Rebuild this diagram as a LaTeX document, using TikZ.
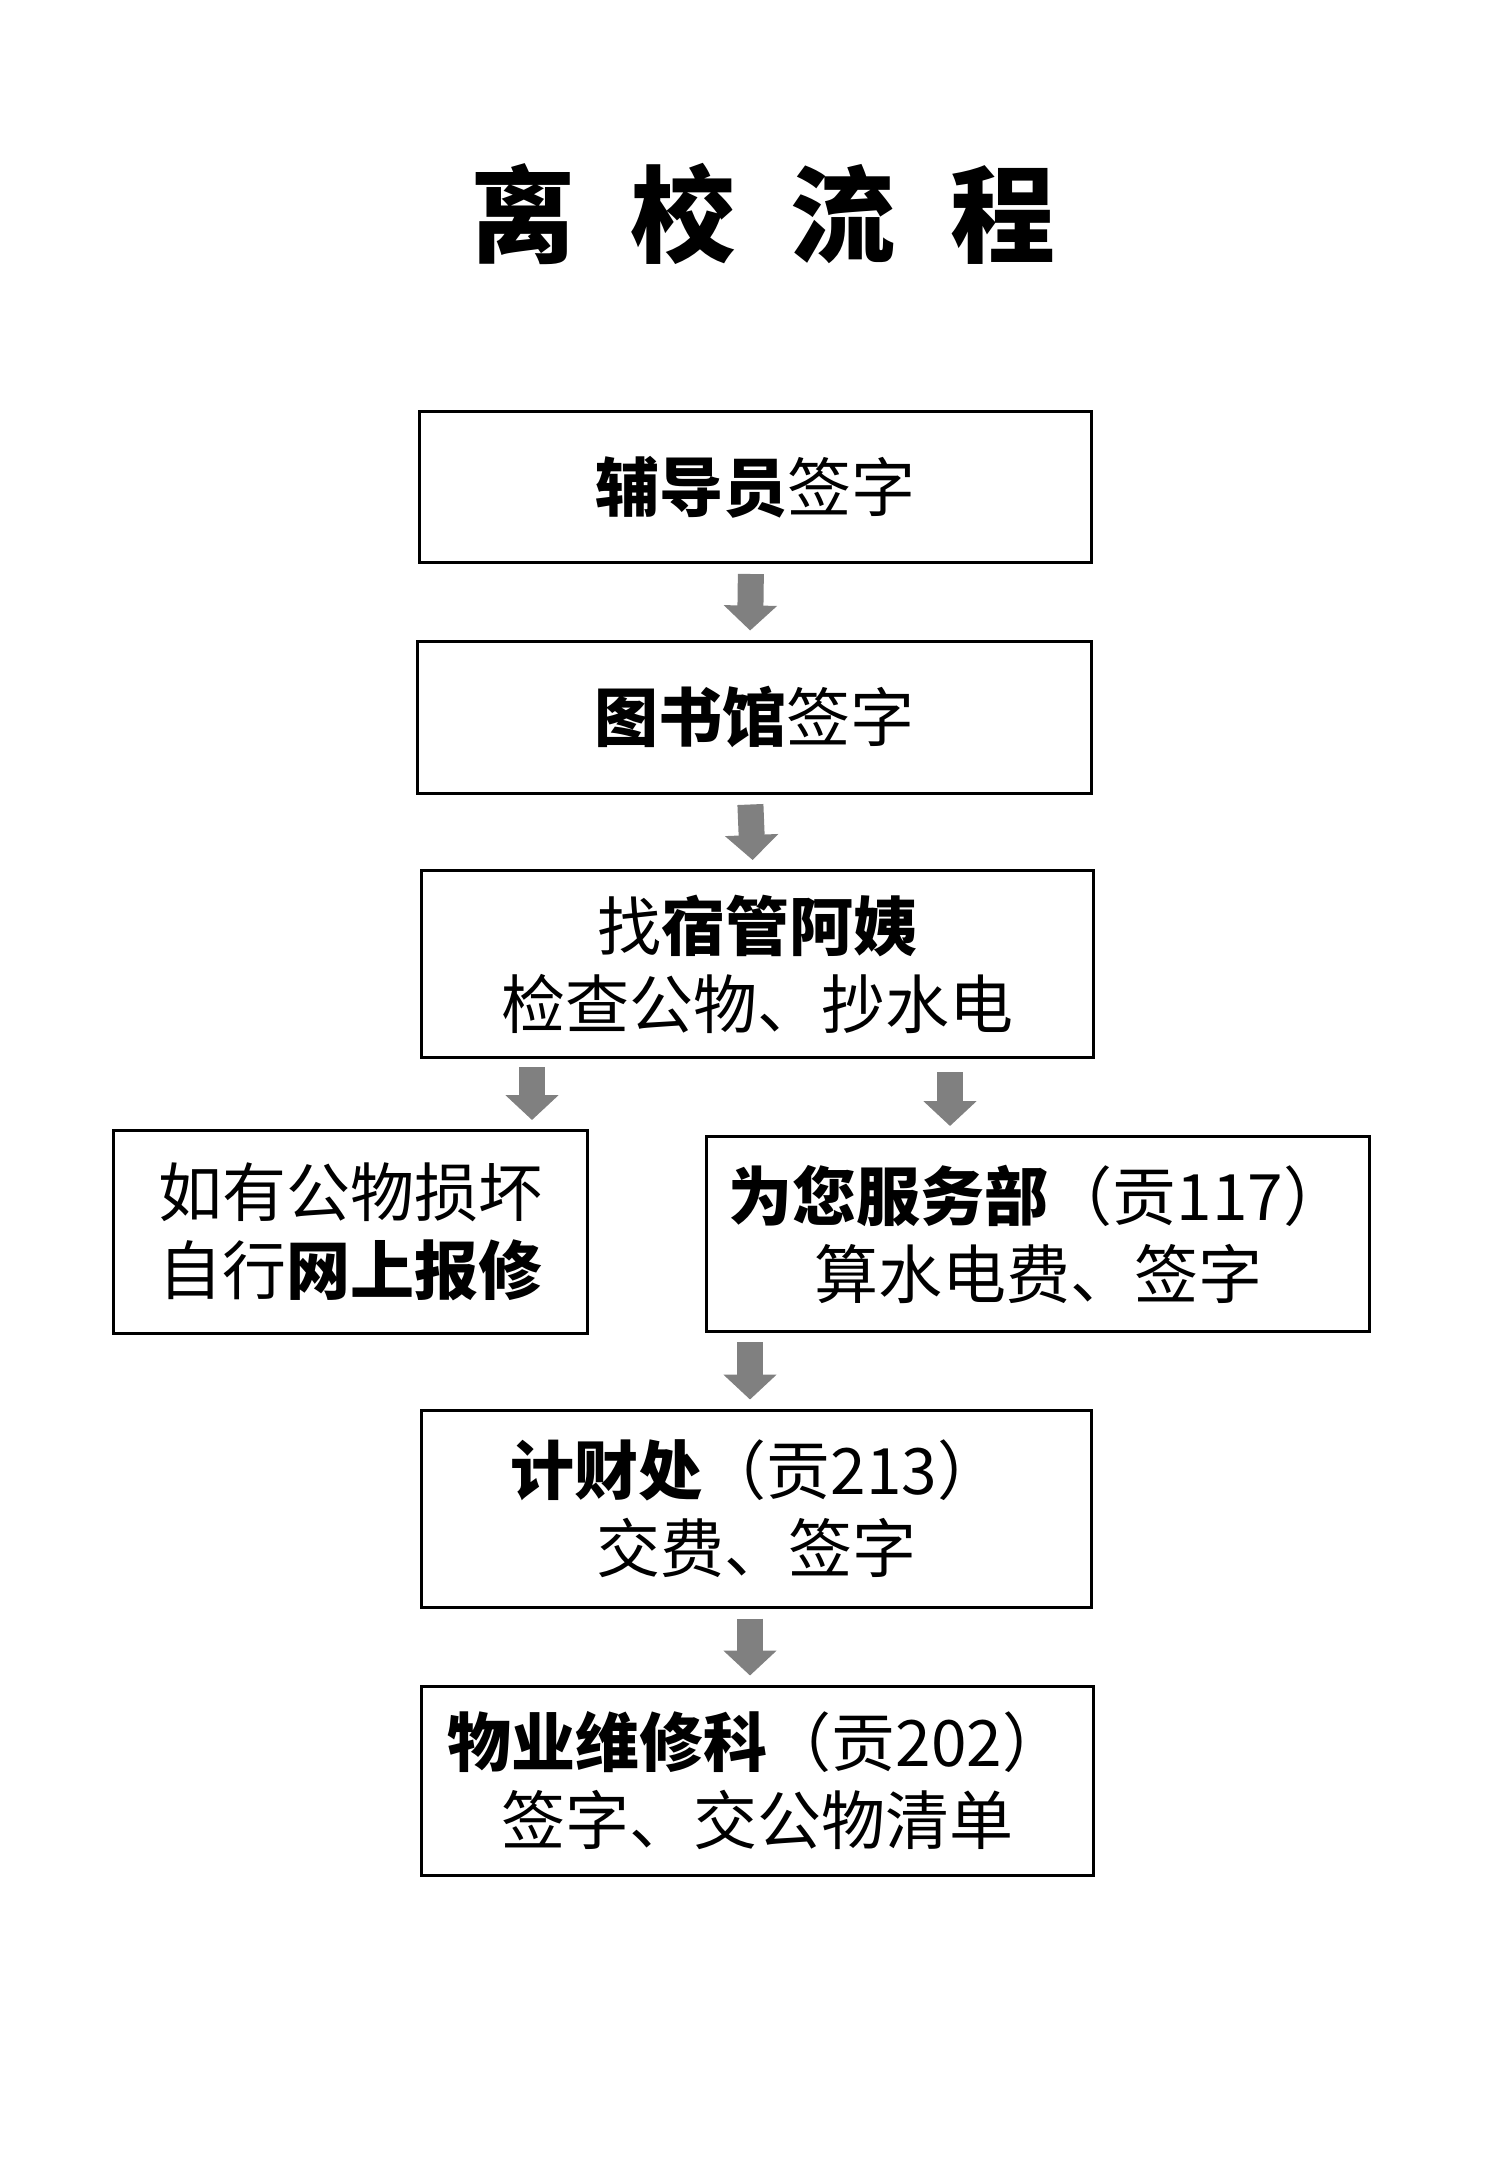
\documentclass[tikz,border=0pt]{standalone}
\usepackage{fontspec}
\setmainfont{Noto Sans CJK SC}
\usetikzlibrary{arrows.meta}

\begin{document}
\begin{tikzpicture}[x = 0.3pt, y = -0.3pt]
\tikzstyle{BoxStyle}=[shape = rectangle,
                      draw,
                      line width = 0.9pt,
                      inner sep = 0pt,
                      align = center,
                      font = \fontsize{19.2pt}{23.4pt}\selectfont]
\tikzstyle{ArrowStyle}=[draw = gray,
                        line width = 7.8pt,
                        -{Triangle[width = 15.6pt, length = 7.5pt]},
                        shorten <= 3pt,
                        shorten >= 2.7pt]
\useasboundingbox (0,0) rectangle (1500,2166);
\node[font = \fontsize{31.5pt}{36pt}\selectfont\bfseries] (t0) at (763,214) {离\hspace{16.5pt}校\hspace{16.5pt}流\hspace{16.5pt}程};
\node[BoxStyle, minimum width = 201.6pt, minimum height = 45.3pt] (v0) at (755,487) {\textbf{辅导员}签字};
\node[BoxStyle, minimum width = 202.2pt, minimum height = 45.6pt] (v1) at (754,717) {\textbf{图书馆}签字};
\node[BoxStyle, minimum width = 201.6pt, minimum height = 56.1pt] (v2) at (757,964) {找\textbf{宿管阿姨}\\检查公物、抄水电};
\node[BoxStyle, minimum width = 142.2pt, minimum height = 60.9pt] (v3) at (350,1232) {如有公物损坏\\自行\textbf{网上报修}};
\node[BoxStyle, minimum width = 198.9pt, minimum height = 58.5pt] (v4) at (1038,1234) {\textbf{为您服务部}（贡117）\\算水电费、签字};
\node[BoxStyle, minimum width = 201pt, minimum height = 59.1pt] (v5) at (756,1508.5) {\textbf{计财处}（贡213）\\交费、签字};
\node[BoxStyle, minimum width = 201.6pt, minimum height = 56.7pt] (v6) at (757,1780.5) {\textbf{物业维修科}（贡202）\\签字、交公物清单};
\coordinate (c0) at (532,1057);
\coordinate (c1) at (950,1057);
\coordinate (c2) at (750,1332);
\draw[ArrowStyle] ([xshift = -1.2pt]v0.south) -- ([xshift = -1.2pt]v1.north);
\draw[ArrowStyle] ([xshift = -1.2pt]v1.south) -- ([xshift = -1.2pt]v2.north);
\draw[ArrowStyle] (c0) -- (c0 |- v3.north);
\draw[ArrowStyle, shorten <= 4.5pt] (c1) -- (c1 |- v4.north);
\draw[ArrowStyle] (c2) -- (c2 |- v5.north);
\draw[ArrowStyle] (c2 |- v5.south) -- (c2 |- v6.north);
\end{tikzpicture}
\end{document}
